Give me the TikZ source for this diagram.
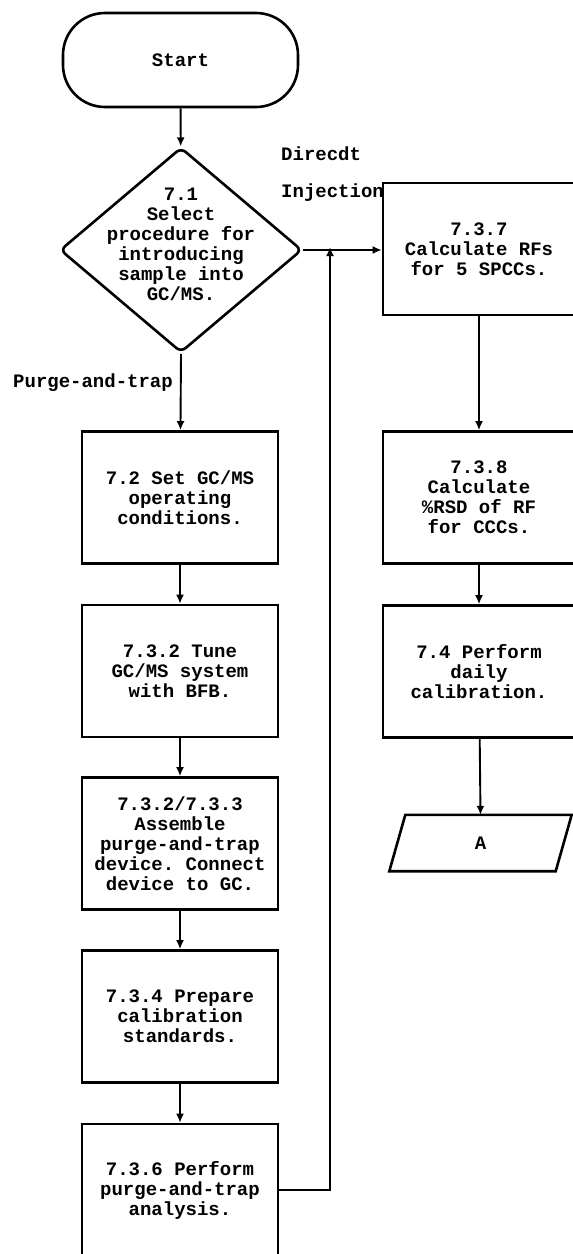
\documentclass[tikz,border=0pt]{standalone}
\usepackage{fontspec}
\setmonofont{Liberation Mono}
\usetikzlibrary{shapes.geometric,arrows.meta}
\begin{document}
\begin{tikzpicture}[x=1pt,y=-1pt,
  every node/.style={font=\ttfamily\bfseries\fontsize{19}{20}\selectfont},
  outline/.style={draw, line width=2.6pt},
  procbox/.style={outline, inner sep=0pt, align=center, minimum height=132pt},
  leftbox/.style={procbox, minimum width=196pt},
  rightbox/.style={procbox, minimum width=192pt},
  txt/.style={align=center, inner sep=0pt},
  lbl/.style={inner sep=0pt, anchor=base west},
  conn/.style={line width=1.9pt, -{Latex[length=9pt,width=8pt]}},
  ]
\useasboundingbox (0,0) rectangle (573,1254);

% Start terminal
\node[outline, rounded corners=42pt, minimum width=235pt, minimum height=94pt] (start) at (180.5,60) {Start};

% Decision
\node[outline, diamond, rounded corners=6pt, minimum width=242pt, minimum height=205pt, inner sep=0pt] (sel) at (181,250) {};
\node[txt] (seltext) at (181,244) {7.1\\Select\\procedure for\\introducing\\sample into\\GC/MS.};

% Branch labels
\node[lbl] (direct) at (281,160) {Direcdt};
\node[lbl] (inject) at (281,197) {Injection};
\node[lbl] (purge) at (13,387) {Purge-and-trap};

% Left column
\node[leftbox] (b72) at (180,497.5) {7.2 Set GC/MS\\operating\\conditions.};
\node[leftbox] (b732) at (180,671) {7.3.2 Tune\\GC/MS system\\with BFB.};
\node[leftbox] (b733) at (180,843.5) {7.3.2/7.3.3\\Assemble\\purge-and-trap\\device. Connect\\device to GC.};
\node[leftbox] (b734) at (180,1016.5) {7.3.4 Prepare\\calibration\\standards.};
\node[leftbox] (b736) at (180,1190) {7.3.6 Perform\\purge-and-trap\\analysis.};

% Right column
\node[rightbox] (b737) at (479,249) {7.3.7\\Calculate RFs\\for 5 SPCCs.};
\node[rightbox] (b738) at (479,497.5) {7.3.8\\Calculate\\\%RSD of RF\\for CCCs.};
\node[rightbox] (b74) at (479,671.5) {7.4 Perform\\daily\\calibration.};

% Off-page connector A (parallelogram drawn round the node)
\node[inner sep=0pt, minimum width=166pt, minimum height=56pt] (A) at (480.5,843) {A};
\draw[line width=2.6pt, line join=miter] ([xshift=-8pt]A.south west) -- ([xshift=8pt]A.north west) -- ([xshift=8pt]A.north east) -- ([xshift=-8pt]A.south east) -- cycle;

% Junction on the direct-injection line
\coordinate (junc) at (330,248);

% Connectors
\draw[conn] (start) -- (sel);
\draw[conn] (sel.south) -- (b72);
\draw[conn] (b72) -- (b732);
\draw[conn] (b732) -- (b733);
\draw[conn] (b733) -- (b734);
\draw[conn] (b734) -- (b736);
\draw[conn] (sel.east) -- (b737.west |- sel.east);
\draw[conn] (b736.east) -| ([yshift=1pt]junc);
\draw[conn] (b737) -- (b738);
\draw[conn] (b738) -- (b74);
\draw[conn] (b74) -- (A.north);
\end{tikzpicture}
\end{document}
